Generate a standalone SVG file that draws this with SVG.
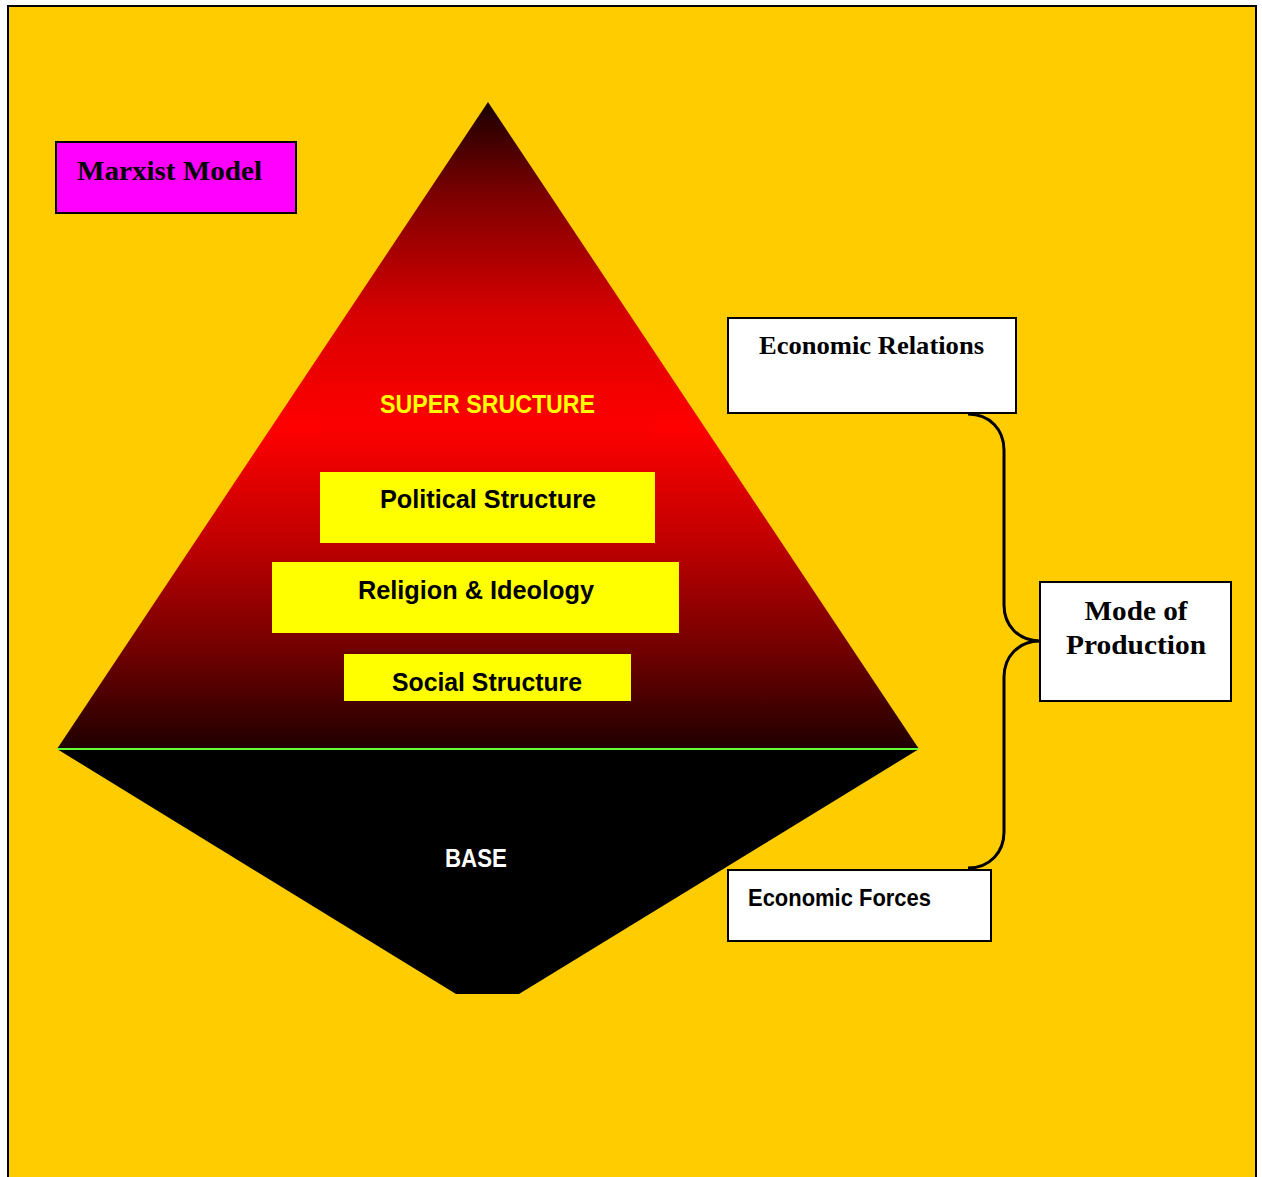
<svg xmlns="http://www.w3.org/2000/svg" width="1262" height="1177" viewBox="0 0 1262 1177">
<defs>
<linearGradient id="supGrad" gradientUnits="userSpaceOnUse" x1="0" y1="102" x2="0" y2="749">
<stop offset="0" stop-color="#1a0000"/>
<stop offset="0.15" stop-color="#800000"/>
<stop offset="0.33" stop-color="#d80000"/>
<stop offset="0.5" stop-color="#ff0000"/>
<stop offset="0.68" stop-color="#c00000"/>
<stop offset="0.85" stop-color="#700000"/>
<stop offset="1" stop-color="#200000"/>
</linearGradient>
<style>
.serif{font-family:"Liberation Serif","Times New Roman",serif;font-weight:bold;fill:#000}
.sans{font-family:"Liberation Sans",Arial,sans-serif;font-weight:bold}
.box{stroke:#000;stroke-width:2}
.layer{fill:#ffff00}
.conn{fill:none;stroke:#000;stroke-width:3}
</style>
</defs>
<rect x="0" y="0" width="1262" height="1177" fill="#ffffff"/>
<rect x="8" y="6" width="1248" height="1180" fill="#ffcc00" stroke="#000" stroke-width="2"/>

<g id="superstructure">
<polygon points="488,102 919,749 57,749" fill="url(#supGrad)"/>
<rect x="320" y="382" width="335" height="63" fill="#f60000" opacity="0.35"/>
<text class="sans" x="487.5" y="413" font-size="25" fill="#ffff00" text-anchor="middle" textLength="215" lengthAdjust="spacingAndGlyphs">SUPER SRUCTURE</text>
</g>

<g id="base">
<polygon points="57,749 919,749 519,994 456,994" fill="#000"/>
<line x1="57" y1="749" x2="919" y2="749" stroke="#66ff33" stroke-width="2"/>
<text class="sans" x="476" y="867" font-size="25" fill="#ffffff" text-anchor="middle" textLength="62" lengthAdjust="spacingAndGlyphs">BASE</text>
</g>

<g id="political">
<rect class="layer" x="320" y="472" width="335" height="71"/>
<text class="sans" x="488" y="508" font-size="25" fill="#000" text-anchor="middle" textLength="216" lengthAdjust="spacingAndGlyphs">Political Structure</text>
</g>

<g id="religion">
<rect class="layer" x="272" y="562" width="407" height="71"/>
<text class="sans" x="476" y="599" font-size="25" fill="#000" text-anchor="middle" textLength="236" lengthAdjust="spacingAndGlyphs">Religion &amp; Ideology</text>
</g>

<g id="social">
<rect class="layer" x="344" y="654" width="287" height="47"/>
<text class="sans" x="487" y="691" font-size="25" fill="#000" text-anchor="middle" textLength="190" lengthAdjust="spacingAndGlyphs">Social Structure</text>
</g>

<g id="title">
<rect class="box" x="56" y="142" width="240" height="71" fill="#ff00ff"/>
<text class="serif" x="77" y="180" font-size="28" textLength="185" lengthAdjust="spacingAndGlyphs">Marxist Model</text>
</g>

<g id="economic-relations">
<rect class="box" x="728" y="318" width="288" height="95" fill="#ffffff"/>
<text class="serif" x="871.5" y="354" font-size="26" text-anchor="middle" textLength="225" lengthAdjust="spacingAndGlyphs">Economic Relations</text>
</g>

<g id="mode-of-production">
<rect class="box" x="1040" y="582" width="191" height="119" fill="#ffffff"/>
<text class="serif" x="1136" y="620" font-size="28" text-anchor="middle" textLength="103" lengthAdjust="spacingAndGlyphs">Mode of</text>
<text class="serif" x="1136" y="654" font-size="28" text-anchor="middle" textLength="140" lengthAdjust="spacingAndGlyphs">Production</text>
</g>

<g id="economic-forces">
<rect class="box" x="728" y="870" width="263" height="71" fill="#ffffff"/>
<text class="sans" x="748" y="906" font-size="23" fill="#000" textLength="183" lengthAdjust="spacingAndGlyphs">Economic Forces</text>
</g>

<g id="connectors">
<path class="conn" d="M968,414 C990,414 1004,430 1004,450 L1004,605 C1004,625 1018,641 1040,641 C1018,641 1004,657 1004,677 L1004,832 C1004,852 990,868 968,868"/>
</g>
</svg>
